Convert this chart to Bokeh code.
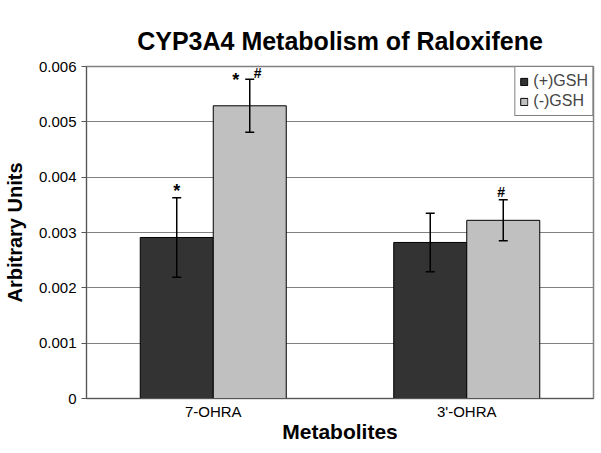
from bokeh.plotting import figure
from bokeh.models import (ColumnDataSource, FactorRange, Range1d, Whisker, TeeHead,
                          Legend, LegendItem, FixedTicker)
from bokeh.transform import dodge
from bokeh.core.properties import value
from bokeh.embed import file_html
from bokeh.resources import INLINE

# ---- data ----
categories = ["7-OHRA", "3'-OHRA"]
series_names = ["(+)GSH", "(-)GSH"]
plus_gsh = [0.00291, 0.00282]
plus_err = [0.00072, 0.00053]
minus_gsh = [0.00529, 0.00322]
minus_err = [0.00048, 0.00037]
y_ticks = [0.0, 0.001, 0.002, 0.003, 0.004, 0.005, 0.006]
y_tick_labels = ["0", "0.001", "0.002", "0.003", "0.004", "0.005", "0.006"]
x_title = "Metabolites"
y_title = "Arbitrary Units"
# significance marks: (category, series, symbol)
marks = [("7-OHRA", "(+)GSH", "*"),
         ("7-OHRA", "(-)GSH", "*"),
         ("7-OHRA", "(-)GSH", "#"),
         ("3'-OHRA", "(-)GSH", "#")]

FONT = "Liberation Sans"
DODGE = 0.144
BAR_W = 0.288

src = ColumnDataSource(dict(
    cat=categories,
    plus=plus_gsh,
    plus_lo=[v - e for v, e in zip(plus_gsh, plus_err)],
    plus_hi=[v + e for v, e in zip(plus_gsh, plus_err)],
    minus=minus_gsh,
    minus_lo=[v - e for v, e in zip(minus_gsh, minus_err)],
    minus_hi=[v + e for v, e in zip(minus_gsh, minus_err)],
))

p = figure(x_range=FactorRange(*categories), y_range=Range1d(0, 0.006),
           width=601, height=453, output_backend="svg", toolbar_location=None,
           title="CYP3A4 Metabolism of Raloxifene",
           min_border_left=0, min_border_right=8, min_border_top=66, min_border_bottom=55)

p.title.align = "center"
p.title.text_font = FONT
p.title.text_font_size = "25px"
p.title.text_font_style = "bold"
p.title.text_color = "black"
p.title.standoff = 24

r_plus = p.vbar(x=dodge("cat", -DODGE, range=p.x_range), top="plus", width=BAR_W,
                source=src, fill_color="#333333", line_color="black", line_width=1)
r_minus = p.vbar(x=dodge("cat", DODGE, range=p.x_range), top="minus", width=BAR_W,
                 source=src, fill_color="#c0c0c0", line_color="black", line_width=1)

for off, lo, hi in [(-DODGE, "plus_lo", "plus_hi"), (DODGE, "minus_lo", "minus_hi")]:
    w = Whisker(base=dodge("cat", off, range=p.x_range), lower=lo, upper=hi, source=src,
                line_color="black", line_width=1.5, level="annotation",
                upper_head=TeeHead(size=9, line_color="black", line_width=1.5),
                lower_head=TeeHead(size=9, line_color="black", line_width=1.5))
    p.add_layout(w)

# significance marks
mark_style = {
    ("7-OHRA", "(+)GSH", "*"): dict(dx=0, dy=-7, size="18px"),
    ("7-OHRA", "(-)GSH", "*"): dict(dx=-14, dy=1, size="18px"),
    ("7-OHRA", "(-)GSH", "#"): dict(dx=8, dy=-6, size="14px"),
    ("3'-OHRA", "(-)GSH", "#"): dict(dx=-2, dy=-8, size="14px"),
}
for cat, ser, sym in marks:
    i = categories.index(cat)
    if ser == "(+)GSH":
        top = plus_gsh[i] + plus_err[i]
        off = -DODGE
    else:
        top = minus_gsh[i] + minus_err[i]
        off = DODGE
    st = mark_style[(cat, ser, sym)]
    s = ColumnDataSource(dict(x=[cat], y=[top], t=[sym]))
    p.text(x=dodge("x", off, range=p.x_range), y="y", text="t", source=s,
           x_offset=st["dx"], y_offset=st["dy"], text_align="center",
           text_baseline="alphabetic", text_font=value(FONT),
           text_font_size=st["size"], text_font_style="bold", text_color="black")

# axes
p.yaxis.ticker = FixedTicker(ticks=y_ticks)
p.yaxis.major_label_overrides = {t: l for t, l in zip(y_ticks, y_tick_labels)}
p.yaxis.axis_label = y_title
p.xaxis.axis_label = x_title
for ax in (p.xaxis, p.yaxis):
    ax.axis_label_text_font = FONT
    ax.axis_label_text_font_style = "bold"
    ax.axis_label_text_color = "black"
    ax.major_label_text_font = FONT
    ax.major_label_text_font_size = "15px"
    ax.major_label_text_color = "black"
    ax.axis_line_color = "#555555"
    ax.minor_tick_line_color = None
p.yaxis.axis_label_text_font_size = "20px"
p.xaxis.axis_label_text_font_size = "21px"

p.yaxis.major_tick_out = 5
p.yaxis.major_tick_in = 0
p.yaxis.major_tick_line_color = "#555555"
p.yaxis.major_label_standoff = 5
p.yaxis.axis_label_standoff = 10
p.xaxis.major_tick_line_color = None
p.xaxis.major_tick_out = 0
p.xaxis.major_tick_in = 0
p.xaxis.major_label_standoff = 4
p.xaxis.axis_label_standoff = -3

p.xgrid.grid_line_color = None
p.ygrid.grid_line_color = "#808080"
p.ygrid.grid_line_width = 1
p.outline_line_color = "#808080"
p.outline_line_width = 1.5
p.background_fill_color = "white"
p.border_fill_color = "white"

legend = Legend(items=[LegendItem(label=series_names[0], renderers=[r_plus]),
                       LegendItem(label=series_names[1], renderers=[r_minus])],
                location="top_right", margin=0, padding=4, spacing=0,
                glyph_width=9, glyph_height=9, label_standoff=5,
                label_text_font=FONT, label_text_font_size="16px",
                label_height=20, border_line_color="black", border_line_width=1,
                background_fill_alpha=1)
p.add_layout(legend)

open("out.html", "w").write(file_html(p, INLINE))
